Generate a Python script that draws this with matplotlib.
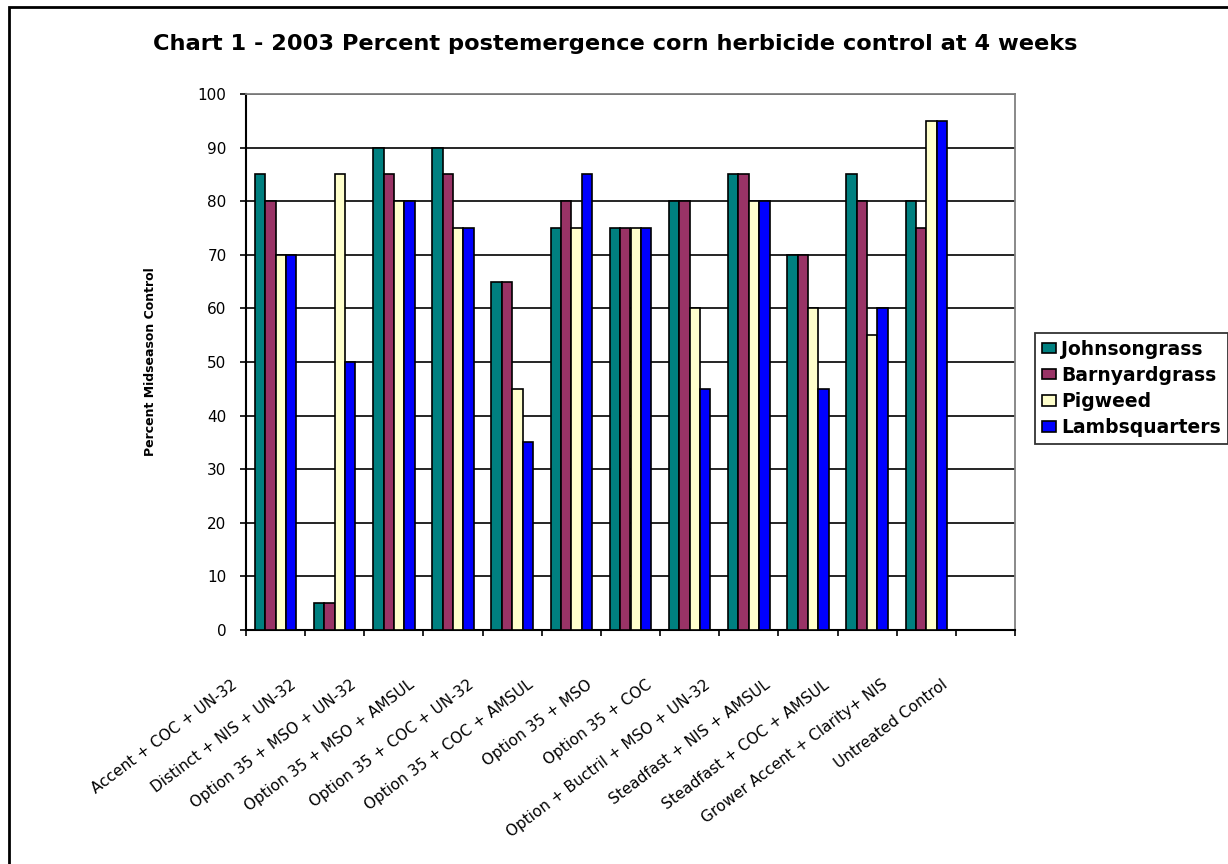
import numpy as np
import matplotlib
matplotlib.use("Agg")
import matplotlib.pyplot as plt
from matplotlib.patches import Rectangle
from matplotlib.transforms import ScaledTranslation, blended_transform_factory

# the reference text is wide (stretched Arial); DejaVu Sans is the closest fit
plt.rcParams['font.family'] = ['DejaVu Sans']

# data
treatments = [
    "Accent + COC + UN-32",
    "Distinct + NIS + UN-32",
    "Option 35 + MSO + UN-32",
    "Option 35 + MSO + AMSUL",
    "Option 35 + COC + UN-32",
    "Option 35 + COC + AMSUL",
    "Option 35 + MSO",
    "Option 35 + COC",
    "Option + Buctril + MSO + UN-32",
    "Steadfast + NIS + AMSUL",
    "Steadfast + COC + AMSUL",
    "Grower Accent + Clarity+ NIS",
    "Untreated Control",
]
johnsongrass = [85, 5, 90, 90, 65, 75, 75, 80, 85, 70, 85, 80, np.nan]
barnyardgrass = [80, 5, 85, 85, 65, 80, 75, 80, 85, 70, 80, 75, np.nan]
pigweed = [70, 85, 80, 75, 45, 75, 75, 60, 80, 60, 55, 95, np.nan]
lambsquarters = [70, 50, 80, 75, 35, 85, 75, 45, 80, 45, 60, 95, np.nan]

series = [
    ("Johnsongrass", johnsongrass, "#008080"),
    ("Barnyardgrass", barnyardgrass, "#993366"),
    ("Pigweed", pigweed, "#FFFFCC"),
    ("Lambsquarters", lambsquarters, "#0000FF"),
]

W, H = 1228, 864
fig = plt.figure(figsize=(W / 100, H / 100), dpi=100)
ax = fig.add_axes([246 / W, 1 - 630 / H, (1015 - 246) / W, (630 - 94) / H])

x = np.arange(len(treatments)) + 0.5
bw = 0.175
for i, (name, vals, col) in enumerate(series):
    ax.bar(x + (i - 1.5) * bw, vals, width=bw, color=col, edgecolor="black",
           linewidth=1.2, label=name, zorder=3)

ax.set_xlim(0, len(treatments))
ax.set_ylim(0, 100)
ax.set_yticks(np.arange(0, 101, 10))
ax.tick_params(axis="y", direction="out", length=4, width=1.2, labelsize=11, pad=10)
ax.grid(axis="y", color="black", linewidth=1.2, zorder=0)
ax.set_axisbelow(True)

ax.set_xticks(np.arange(0, len(treatments) + 1))
ax.set_xticklabels([])
ax.tick_params(axis="x", direction="out", length=4, width=1.2)

# category labels, slanted and pushed down-left like the reference
lab_trans = blended_transform_factory(ax.transData, ax.transAxes) + \
    ScaledTranslation(-40 / 100, -53 / 100, fig.dpi_scale_trans)
for xi, name in zip(x, treatments):
    ax.text(xi, 0, name, transform=lab_trans, rotation=37, ha="right",
            va="center", rotation_mode="anchor", fontsize=11, clip_on=False)

for s in ["left", "bottom"]:
    ax.spines[s].set_linewidth(1.5)
    ax.spines[s].set_color("black")
for s in ["top", "right"]:
    ax.spines[s].set_linewidth(1.3)
    ax.spines[s].set_color("#808080")

fig.text(615 / W, 1 - 44 / H,
         "Chart 1 - 2003 Percent postemergence corn herbicide control at 4 weeks",
         ha="center", va="center", fontsize=16.2, fontweight="bold")
fig.text(150 / W, 1 - 362 / H, "Percent Midseason Control", rotation=90,
         ha="center", va="center", fontsize=9, fontweight="bold")

leg = fig.legend(loc="upper left", bbox_to_anchor=(1035 / W, 1 - 333 / H),
                 frameon=True, fancybox=False, edgecolor="black",
                 prop={"weight": "bold", "size": 13.5},
                 handlelength=0.75, handleheight=0.5, handletextpad=0.3,
                 labelspacing=0.38, borderpad=0.35, borderaxespad=0)
leg.get_frame().set_linewidth(1.3)

# outer chart border (cut off at the right and bottom)
fig.patches.append(Rectangle((9 / W, -0.05), 1.2, 1 + 0.05 - 7 / H,
                             transform=fig.transFigure, fill=False,
                             edgecolor="black", linewidth=2))

fig.savefig("out.png", dpi=100)
